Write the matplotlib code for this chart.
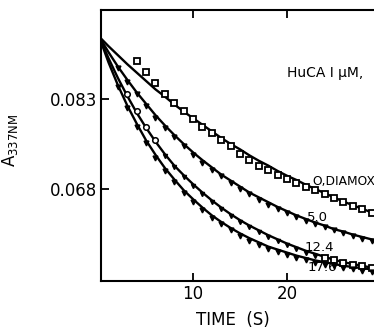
import matplotlib
matplotlib.use("Agg")
import matplotlib.pyplot as plt

# Fitted curves, one value per second
t_fit = list(range(0, 31))
fit_0 = [0.0934, 0.0918, 0.0903, 0.0888, 0.0874, 0.0860, 0.0846, 0.0834, 0.0821, 0.0809,
         0.0798, 0.0787, 0.0776, 0.0765, 0.0755, 0.0746, 0.0736, 0.0727, 0.0719, 0.0710,
         0.0702, 0.0695, 0.0687, 0.0680, 0.0673, 0.0666, 0.0659, 0.0653, 0.0647, 0.0641, 0.0636]
fit_5 = [0.0934, 0.0908, 0.0884, 0.0862, 0.0841, 0.0822, 0.0803, 0.0786, 0.0770, 0.0755,
         0.0741, 0.0728, 0.0716, 0.0704, 0.0694, 0.0684, 0.0674, 0.0666, 0.0658, 0.0650,
         0.0643, 0.0636, 0.0630, 0.0624, 0.0619, 0.0613, 0.0609, 0.0604, 0.0600, 0.0596, 0.0592]
fit_12 = [0.0934, 0.0898, 0.0865, 0.0835, 0.0807, 0.0782, 0.0759, 0.0738, 0.0719, 0.0703,
          0.0688, 0.0674, 0.0661, 0.0649, 0.0638, 0.0628, 0.0619, 0.0611, 0.0603, 0.0596,
          0.0589, 0.0583, 0.0577, 0.0572, 0.0567, 0.0562, 0.0558, 0.0555, 0.0552, 0.0549, 0.0547]
fit_17 = [0.0934, 0.0891, 0.0853, 0.0819, 0.0789, 0.0761, 0.0737, 0.0715, 0.0696, 0.0678,
          0.0663, 0.0649, 0.0636, 0.0625, 0.0615, 0.0606, 0.0598, 0.0591, 0.0584, 0.0579,
          0.0574, 0.0569, 0.0565, 0.0561, 0.0558, 0.0555, 0.0552, 0.0550, 0.0548, 0.0546, 0.0544]

# Measured points
t_sq0 = list(range(4, 30))
pts_0 = [0.0893, 0.0875, 0.0856, 0.0838, 0.0824, 0.0810, 0.0797, 0.0784, 0.0773, 0.0762,
         0.0751, 0.0739, 0.0728, 0.0719, 0.0711, 0.0703, 0.0696, 0.0690, 0.0684, 0.0678,
         0.0671, 0.0665, 0.0659, 0.0652, 0.0646, 0.0640]
t_tri = list(range(2, 30))
pts_5 = [0.0882, 0.0859, 0.0838, 0.0818, 0.0799, 0.0782, 0.0766, 0.0751, 0.0737, 0.0724,
         0.0712, 0.0701, 0.0690, 0.0680, 0.0671, 0.0662, 0.0654, 0.0647, 0.0640, 0.0633,
         0.0627, 0.0621, 0.0616, 0.0611, 0.0606, 0.0601, 0.0597, 0.0593]
t_c12 = [3, 4, 5, 6]
pts_12c = [0.0838, 0.0810, 0.0784, 0.0761]
t_m12 = list(range(7, 24))
pts_12m = [0.0735, 0.0716, 0.0700, 0.0685, 0.0671, 0.0658, 0.0646, 0.0635, 0.0625, 0.0616,
           0.0608, 0.0600, 0.0593, 0.0586, 0.0580, 0.0574, 0.0569]
t_s12 = [24, 25, 26, 27, 28, 29]
pts_12s = [0.0565, 0.0561, 0.0557, 0.0554, 0.0551, 0.0548]
pts_17 = [0.0850, 0.0815, 0.0784, 0.0756, 0.0732, 0.0710, 0.0691, 0.0674, 0.0659, 0.0645,
          0.0632, 0.0621, 0.0611, 0.0602, 0.0594, 0.0587, 0.0580, 0.0575, 0.0570, 0.0565,
          0.0561, 0.0557, 0.0554, 0.0551, 0.0548, 0.0546, 0.0544, 0.0542]

fig = plt.figure(figsize=(3.74, 3.28), dpi=100)
ax = fig.add_axes([0.270, 0.1433, 0.7615, 0.8262])

k = "black"
for f in (fit_0, fit_5, fit_12, fit_17):
    ax.plot(t_fit, f, color=k, linewidth=1.7)

ax.plot(t_sq0, pts_0, "s", ms=5, mfc="white", mec=k, mew=1.3)
ax.plot(t_tri, pts_5, "v", ms=3.5, color=k)
ax.plot(t_c12, pts_12c, "o", ms=4, mfc="white", mec=k, mew=1.1)
ax.plot(t_m12, pts_12m, "v", ms=3, color=k)
ax.plot(t_s12, pts_12s, "s", ms=5, mfc="white", mec=k, mew=1.3)
ax.plot(t_tri, pts_17, "v", ms=3.5, color=k)

ax.set_xlim(0.2, 30.5)
ax.set_ylim(0.05267, 0.09783)

ax.set_xticks([10, 20])
ax.set_xticklabels(["10", "20"])
ax.set_yticks([0.083, 0.068])
ax.set_yticklabels(["0.083", "0.068"])
ax.tick_params(direction="in", length=6, width=1.3, labelsize=12, pad=3,
               top=True, right=False)
for s in ax.spines.values():
    s.set_linewidth(1.5)

ax.set_xlabel("TIME  (S)", fontsize=12, va="center")
ax.xaxis.set_label_coords(0.4635, -0.144)
ax.set_ylabel(r"A$_{\mathregular{337NM}}$", fontsize=12)
ax.yaxis.set_label_coords(-0.284, 0.52)

ax.text(20.0, 0.0873, "HuCA I μM,", fontsize=10, va="center", ha="left")
ax.text(22.7, 0.0693, "O,DIAMOX", fontsize=8.8, va="center", ha="left")
ax.text(22.1, 0.0632, "5.0", fontsize=9.5, va="center", ha="left")
ax.text(21.9, 0.0582, "12.4", fontsize=9.5, va="center", ha="left")
ax.text(22.2, 0.0550, "17.6", fontsize=9.5, va="center", ha="left")

fig.savefig("out.png", dpi=100)
